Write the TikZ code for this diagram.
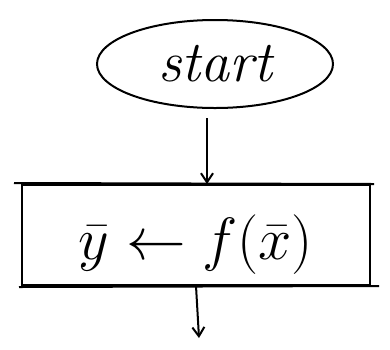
\documentclass[tikz,border=0pt]{standalone}
\usepackage{amsmath,amssymb}
\usepackage{graphicx}
\usepackage{xcolor}
\usepackage{tikz}
\usetikzlibrary{positioning,shapes.geometric,arrows.meta,calc}

\begin{document}
\begin{tikzpicture}[
  x=1pt, y=1pt,
  every node/.style={font=\fontsize{58}{64}\selectfont},
  term/.style={draw, ellipse, line width=2pt, minimum width=236pt, minimum height=88pt, inner sep=0pt},
  proc/.style={draw, line width=2pt, minimum width=348pt, minimum height=100pt, inner sep=0pt},
  arr/.style={-{Straight Barb[length=9pt,width=12pt,line width=2pt]}, line width=2pt},
  ln/.style={line width=2pt},
]
\useasboundingbox (0,0) rectangle (390,-349);
\node[term] (start) at (215,-64) {\itshape start};
\node[proc] (assign) at (196,-235) {\Huge\raisebox{-24pt}[0pt][0pt]{\scalebox{2.4}{$\bar{y} \leftarrow f(\bar{x})$}}\hspace{30pt}};
\coordinate (out) at (199,-338);
% extended top and bottom rules of the box
\draw[ln] ($(assign.north west)+(-7,1)$) -- ($(assign.north east)+(3,0)$);
\draw[ln] ($(assign.south west)+(-2,-1)$) -- ($(assign.south east)+(8,0)$);
\draw[arr, shorten <=9pt] (start.south -| 207,0) -- (assign.north -| 207,0);
\draw[arr] (assign.south) -- (out);
\end{tikzpicture}
\end{document}
